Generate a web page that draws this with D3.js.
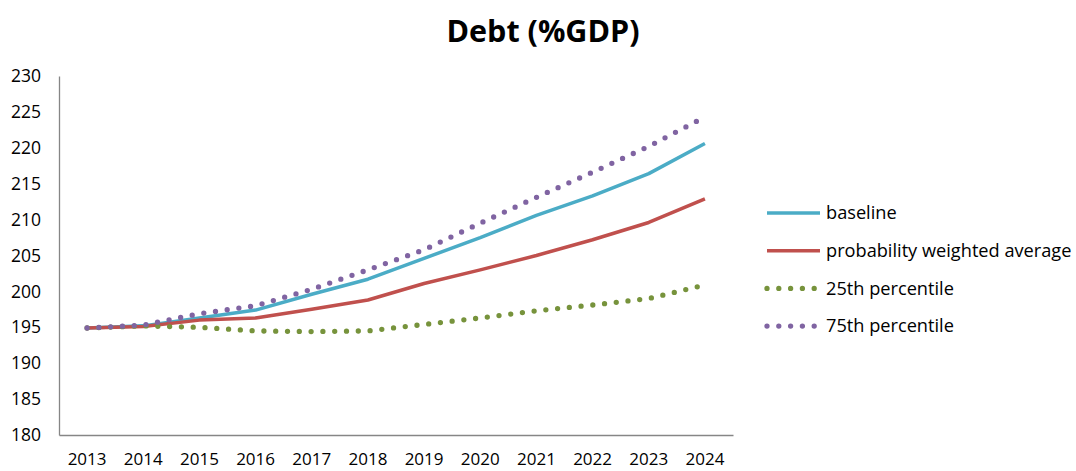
<!DOCTYPE html>
<html><head><meta charset="utf-8">
<script src="https://cdn.jsdelivr.net/npm/d3@7"></script>
<style>body{margin:0;background:#fff;} svg{display:block;}</style>
</head><body>
<svg id="c" width="1076" height="471"></svg>
<script>
const years = ["2013","2014","2015","2016","2017","2018","2019","2020","2021","2022","2023","2024"];
const baseline = [194.9,195.2,196.3,197.4,199.6,201.7,204.6,207.5,210.6,213.3,216.4,220.6];
const weighted = [194.9,195.1,196.0,196.3,197.5,198.8,201.1,203.0,205.0,207.2,209.6,212.9];
const p25 = [194.9,195.2,195.0,194.5,194.4,194.5,195.4,196.3,197.3,198.1,199.0,200.9];
const p75 = [194.9,195.3,196.9,198.0,200.3,203.0,205.8,209.5,213.1,216.6,220.2,224.3];
const yTicks = [180,185,190,195,200,205,210,215,220,225,230];
const seriesNames = ["baseline","probability weighted average","25th percentile","75th percentile"];
const seriesColors = ["#4BACC6","#C0504D","#77933C","#8064A2"];
const seriesData = [baseline, weighted, p25, p75];
const seriesDotted = [false,false,true,true];

const svg = d3.select("#c");
const font = "'Open Sans', sans-serif";
const L = 59, R = 733, T = 76, B = 435;
const x = d3.scaleBand().domain(years).range([L, R]);
const y = d3.scaleLinear().domain([180,230]).range([B, T]);

svg.append("text").attr("x", 543).attr("y", 42).attr("text-anchor","middle")
  .attr("font-family", font).attr("font-weight","bold").attr("font-size", 30.5).attr("fill","#000")
  .text("Debt (%GDP)");

const ya = svg.append("g").attr("transform",`translate(${L},0)`)
  .call(d3.axisLeft(y).tickValues(yTicks).tickSize(0).tickPadding(18).tickFormat(d3.format("d")));
ya.select(".domain").attr("stroke","#868686").attr("stroke-width",1.3);
ya.selectAll("text").attr("font-family",font).attr("font-size",17.5).attr("fill","#000");

const xa = svg.append("g").attr("transform",`translate(0,${B})`)
  .call(d3.axisBottom(x).tickSize(0).tickPadding(18));
xa.select(".domain").attr("stroke","#868686").attr("stroke-width",1.3);
xa.selectAll("text").attr("font-family",font).attr("font-size",17).attr("fill","#000");

const line = d3.line().x((d,i)=>x(years[i])+x.bandwidth()/2).y(d=>y(d));
seriesData.forEach((s,k)=>{
  const p = svg.append("path").datum(s).attr("d",line).attr("fill","none")
    .attr("stroke",seriesColors[k]);
  if (seriesDotted[k]) p.attr("stroke-width",5.3).attr("stroke-linecap","round").attr("stroke-dasharray","0 11.8");
  else p.attr("stroke-width",3.5).attr("stroke-linejoin","round");
});

const lg = svg.append("g");
seriesNames.forEach((n,k)=>{
  const yy = 213 + k*37.7;
  const l = lg.append("line").attr("x1",767).attr("x2",820).attr("y1",yy).attr("y2",yy).attr("stroke",seriesColors[k]);
  if (seriesDotted[k]) l.attr("x1",767).attr("x2",818).attr("stroke-width",5.3).attr("stroke-linecap","round").attr("stroke-dasharray","0 11.8");
  else l.attr("stroke-width",3.5);
  lg.append("text").attr("x",826).attr("y",yy).attr("dy","0.35em").attr("font-family",font).attr("font-size",18.2).attr("fill","#000").text(n);
});
</script>
</body></html>
